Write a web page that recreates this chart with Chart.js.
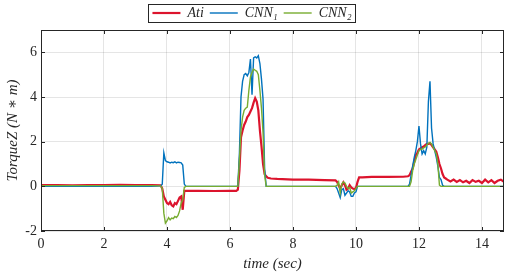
<!DOCTYPE html>
<html>
<head>
<meta charset="utf-8">
<script src="https://cdn.jsdelivr.net/npm/chart.js@4/dist/chart.umd.min.js"></script>
<style>
  html, body { margin: 0; padding: 0; background: #fff; }
  #wrap { width: 505px; height: 277px; }
</style>
</head>
<body>
<div id="wrap"><canvas id="torque_canvas"></canvas></div>
<script>
// time (sec), shared by the three series
const times = [
  0, 0.5, 1, 1.5, 2, 2.5, 3, 3.5,
  3.8, 3.85, 3.9, 3.95, 4.0, 4.05, 4.1, 4.15, 4.2, 4.25, 4.3, 4.35, 4.4, 4.45, 4.5, 4.55, 4.6,
  5.0, 5.5, 6.0, 6.2, 6.25,
  6.3, 6.35, 6.4, 6.45, 6.5, 6.55, 6.6, 6.65, 6.7, 6.75, 6.8, 6.85, 6.9, 6.95, 7.0, 7.05, 7.1, 7.15, 7.2,
  7.3, 7.5, 8.0, 8.5, 9.0, 9.35,
  9.4, 9.45, 9.5, 9.55, 9.6, 9.65, 9.7, 9.75, 9.8, 9.85, 9.9, 9.95, 10.0, 10.05, 10.1,
  10.2, 10.5, 11.0, 11.5, 11.65, 11.7,
  11.75, 11.8, 11.85, 11.9, 11.95, 12.0, 12.05, 12.1, 12.15, 12.2, 12.25, 12.3, 12.35, 12.4, 12.45, 12.5, 12.55, 12.6, 12.65, 12.7, 12.75, 12.8, 12.85, 12.9,
  13.0, 13.1, 13.2, 13.3, 13.4, 13.5, 13.6, 13.7, 13.8, 13.9, 14.0, 14.1, 14.2, 14.3, 14.4, 14.5, 14.6, 14.7
];

const ati = [
  0.05, 0.06, 0.04, 0.06, 0.05, 0.07, 0.05, 0.06,
  0.05, -0.1, -0.45, -0.6, -0.75, -0.8, -0.7, -0.85, -0.9, -0.75, -0.8, -0.65, -0.5, -0.45, -1.05, -0.2, -0.2,
  -0.2, -0.21, -0.2, -0.2, -0.15,
  0.7, 2.2, 2.5, 2.75, 2.9, 3.1, 3.2, 3.35, 3.5, 3.75, 3.95, 3.8, 3.4, 2.5, 1.8, 1.0, 0.55, 0.45, 0.38,
  0.35, 0.33, 0.3, 0.3, 0.28, 0.27,
  0.2, 0.05, -0.1, 0.05, 0.18, 0.05, -0.15, -0.1, 0.05, -0.05, -0.1, -0.12, -0.08, 0.2, 0.4,
  0.4, 0.42, 0.42, 0.43, 0.45, 0.5,
  0.65, 0.8, 1.1, 1.4, 1.5, 1.65, 1.7, 1.75, 1.78, 1.85, 1.9, 1.9, 1.93, 1.85, 1.75, 1.65, 1.55, 1.3, 1.0, 0.8, 0.55, 0.4, 0.35, 0.3,
  0.22, 0.3, 0.2, 0.28, 0.18, 0.25, 0.15, 0.28, 0.2, 0.25, 0.15, 0.3, 0.18, 0.28, 0.15, 0.25, 0.3, 0.2
];

const cnn1 = [
  0, 0, 0, 0, 0, 0, 0, 0,
  0.02, 0.1, 1.5, 1.15, 1.1, 1.08, 1.05, 1.08, 1.06, 1.1, 1.05, 1.08, 1.07, 1.05, 0.95, 0.1, 0,
  0, 0, 0, 0, 0.02,
  1.5, 4.0, 4.7, 5.0, 5.05, 4.95, 5.1, 5.7, 4.1, 5.75, 5.8, 5.75, 5.85, 5.5, 4.8, 3.9, 0.8, 0, 0,
  0, 0, 0, 0, 0, 0,
  -0.1, -0.3, -0.5, -0.15, -0.1, -0.4, -0.3, -0.2, -0.25, -0.45, -0.45, -0.3, -0.25, 0, 0,
  0, 0, 0, 0, 0, 0.1,
  0.5, 0.9, 1.3, 1.6, 2.0, 2.7, 1.9, 1.45, 1.6, 1.45, 1.75, 3.8, 4.7, 2.6, 1.9, 1.6, 1.3, 0.9, 0.4, 0.3, 0.05, 0, 0, 0,
  0, 0, 0, 0, 0, 0, 0, 0, 0, 0, 0, 0, 0, 0, 0, 0, 0, 0
];

const cnn2 = [
  0.03, 0.03, 0.03, 0.03, 0.03, 0.03, 0.03, 0.03,
  0.02, -0.1, -1.2, -1.65, -1.55, -1.4, -1.5, -1.42, -1.45, -1.35, -1.4, -1.3, -1.1, -0.75, -0.6, -0.05, 0,
  0, 0, 0, 0, 0,
  1.2, 2.5, 3.1, 3.4, 3.5, 3.55, 4.3, 4.9, 5.1, 5.25, 5.2, 5.15, 5.0, 4.3, 3.5, 2.4, 0.5, 0, 0,
  0, 0, 0, 0, 0, 0,
  0.05, 0.2, -0.3, 0.1, 0.2, 0.15, 0.0, -0.1, -0.05, -0.3, -0.25, -0.2, -0.1, 0, 0,
  0, 0, 0, 0, 0, 0,
  0.2, 0.7, 1.0, 1.2, 1.4, 1.6, 1.65, 1.67, 1.72, 1.76, 1.85, 1.93, 1.97, 1.9, 1.75, 1.6, 1.45, 1.0, 0.05, 0, 0, 0, 0, 0,
  0, 0, 0, 0, 0, 0, 0, 0, 0, 0, 0, 0, 0, 0, 0, 0, 0, 0
];

const seriesLabels = ['Ati', 'CNN\u2081', 'CNN\u2082'];
const xTicks = [0, 2, 4, 6, 8, 10, 12, 14];
const yTicks = [-2, 0, 2, 4, 6];

const axisColor = '#262626';
const serif = "'Liberation Serif', 'DejaVu Serif', serif";

function toPoints(values) {
    return values.map((v, i) => ({ x: times[i], y: v }));
}

// frame with inward ticks and a box round the legend, matlab style
const frameAndTicks = {
    id: 'frameAndTicks',
    afterDraw(chart) {
        const c = chart.ctx;
        const a = chart.chartArea;
        const xs = chart.scales.x;
        const ys = chart.scales.y;
        c.save();
        c.strokeStyle = axisColor;
        c.lineWidth = 1;
        c.strokeRect(a.left + 0.5, a.top + 0.5, a.right - a.left - 1, a.bottom - a.top - 1);
        c.beginPath();
        xTicks.forEach(t => {
            const px = Math.round(xs.getPixelForValue(t)) + 0.5;
            c.moveTo(px, a.bottom); c.lineTo(px, a.bottom - 4);
            c.moveTo(px, a.top); c.lineTo(px, a.top + 4);
        });
        yTicks.forEach(t => {
            const py = Math.round(ys.getPixelForValue(t)) + 0.5;
            c.moveTo(a.left, py); c.lineTo(a.left + 4, py);
            c.moveTo(a.right, py); c.lineTo(a.right - 4, py);
        });
        c.stroke();

        const boxes = chart.legend.legendHitBoxes;
        if (boxes && boxes.length) {
            const l = Math.min(...boxes.map(b => b.left)) - 4;
            const r = Math.max(...boxes.map(b => b.left + b.width)) + 4;
            const t = Math.min(...boxes.map(b => b.top)) - 2;
            const bt = Math.max(...boxes.map(b => b.top + b.height)) + 2;
            c.strokeStyle = axisColor;
            c.strokeRect(Math.round(l) + 0.5, Math.round(t) + 0.5, Math.round(r - l), Math.round(bt - t));
        }
        c.restore();
    }
};

const ctx = document.getElementById('torque_canvas');

const chart = new Chart(ctx, {
    type: 'line',
    data: {
        datasets: [
            { label: seriesLabels[0], data: toPoints(ati), borderColor: 'rgb(220, 20, 45)', backgroundColor: 'rgb(220, 20, 45)', borderWidth: 2.2, order: 2 },
            { label: seriesLabels[1], data: toPoints(cnn1), borderColor: 'rgb(0, 114, 189)', backgroundColor: 'rgb(0, 114, 189)', borderWidth: 1.4, order: 1 },
            { label: seriesLabels[2], data: toPoints(cnn2), borderColor: 'rgb(119, 172, 48)', backgroundColor: 'rgb(119, 172, 48)', borderWidth: 1.4, order: 0 }
        ]
    },
    options: {
        responsive: true,
        maintainAspectRatio: false,
        animation: false,
        layout: {
            padding: { left: 0, right: 1, top: 0, bottom: 0 }
        },
        elements: {
            point: { radius: 0 },
            line: { tension: 0 }
        },
        scales: {
            x: {
                type: 'linear',
                min: 0,
                max: 14.7,
                afterBuildTicks: s => { s.ticks = xTicks.map(v => ({ value: v })); },
                afterFit: s => { s.height = 46; },
                grid: { color: 'rgba(0,0,0,0.1)', drawTicks: false },
                border: { display: false },
                ticks: { color: axisColor, font: { family: serif, size: 14 }, padding: 5, maxRotation: 0 },
                title: { display: true, text: 'time (sec)', color: axisColor, font: { family: serif, size: 15, style: 'italic' }, padding: { top: 0 } }
            },
            y: {
                min: -2,
                max: 7,
                afterBuildTicks: s => { s.ticks = yTicks.map(v => ({ value: v })); },
                afterFit: s => { s.width = 41; },
                grid: { color: 'rgba(0,0,0,0.1)', drawTicks: false },
                border: { display: false },
                ticks: { color: axisColor, font: { family: serif, size: 14 }, padding: 4 },
                title: { display: true, text: 'TorqueZ (N \u2217 m)', color: axisColor, font: { family: serif, size: 15, style: 'italic' }, padding: { bottom: 0 } }
            }
        },
        plugins: {
            legend: {
                display: true,
                position: 'top',
                align: 'center',
                labels: {
                    usePointStyle: true,
                    pointStyle: 'line',
                    pointStyleWidth: 28,
                    boxHeight: 2,
                    padding: 6,
                    color: axisColor,
                    font: { family: serif, size: 14, style: 'italic' },
                    sort: (a, b) => a.datasetIndex - b.datasetIndex
                }
            },
            tooltip: { enabled: false }
        }
    },
    plugins: [frameAndTicks]
});
</script>
</body>
</html>
